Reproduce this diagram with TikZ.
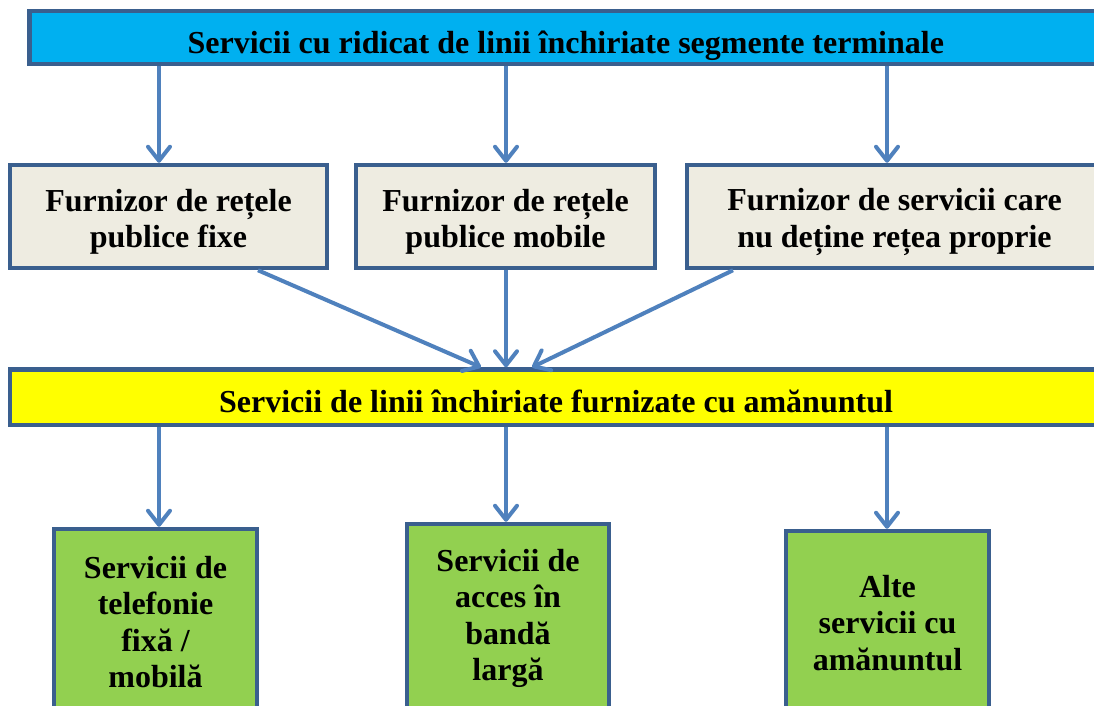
\documentclass[tikz,border=0pt]{standalone}
\usepackage{fontspec}
\setmainfont{Liberation Serif}
\usetikzlibrary{arrows.meta}
\definecolor{bordc}{HTML}{3A5F8E}
\definecolor{arrc}{HTML}{4F81BD}
\definecolor{bluef}{HTML}{00B0F0}
\definecolor{tanf}{HTML}{EEECE1}
\definecolor{yelf}{HTML}{FFFF00}
\definecolor{grnf}{HTML}{92D050}
\newcommand{\toppad}{\rule{0pt}{33pt}}
\tikzset{
  box/.style={draw=bordc, line width=4.5pt, inner sep=0pt, align=center,
    font=\fontsize{32}{36.5}\selectfont\bfseries},
  arr/.style={draw=arrc, line width=4pt,
    -{Straight Barb[length=14pt,width=22pt,round]}}
}
\begin{document}
\begin{tikzpicture}[x=1pt,y=-1pt]
\clip (0,0) rectangle (1094,705);
\fill[white] (0,0) rectangle (1094,705);
% top bar
\node[box, fill=bluef, minimum width=1072.5pt, minimum height=53pt,
  text height=31pt, text depth=0pt] (top) at (565.75,37.5)
  {Servicii cu ridicat de linii închiriate segmente terminale};
% providers
\node[box, fill=tanf, minimum width=317pt, minimum height=103pt] (f1) at (168.5,216.5)
  {\toppad Furnizor de rețele\\publice fixe};
\node[box, fill=tanf, minimum width=299pt, minimum height=103pt] (f2) at (505.5,216.5)
  {\toppad Furnizor de rețele\\publice mobile};
\node[box, fill=tanf, minimum width=415pt, minimum height=103pt] (f3) at (894.5,216.5)
  {\toppad Furnizor de servicii care\\nu deține rețea proprie};
% retail bar
\node[box, fill=yelf, minimum width=1092pt, minimum height=55.5pt,
  text height=30pt, text depth=0pt] (ret) at (556,397.25)
  {Servicii de linii închiriate furnizate cu amănuntul};
% retail services
\node[box, fill=grnf, minimum width=203pt, minimum height=186pt] (g1) at (155.5,622)
  {Servicii de\\telefonie\\fixă /\\mobilă};
\node[box, fill=grnf, minimum width=202pt, minimum height=189pt] (g2) at (508,618.5)
  {Servicii de\\acces în\\bandă\\largă};
\node[box, fill=grnf, minimum width=203pt, minimum height=184pt] (g3) at (887.5,623)
  {Alte\\servicii cu\\amănuntul};
% guide coordinates
\coordinate (c1) at (159,0);
\coordinate (c2) at (506,0);
\coordinate (c3) at (887,0);
\coordinate (l1) at (258,0);
\coordinate (l2) at (481,0);
\coordinate (r1) at (733,0);
\coordinate (r2) at (532,0);
% arrows top -> providers
\draw[arr] (top.south -| c1) -- (f1.north -| c1);
\draw[arr] (top.south -| c2) -- (f2.north -| c2);
\draw[arr] (top.south -| c3) -- (f3.north -| c3);
% providers -> retail
\draw[arr] (f1.south -| l1) -- (ret.north -| l2);
\draw[arr] (f2.south -| c2) -- (ret.north -| c2);
\draw[arr] (f3.south -| r1) -- (ret.north -| r2);
% retail -> services
\draw[arr] (ret.south -| c1) -- (g1.north -| c1);
\draw[arr] (ret.south -| c2) -- (g2.north -| c2);
\draw[arr] (ret.south -| c3) -- (g3.north -| c3);
\end{tikzpicture}
\end{document}
